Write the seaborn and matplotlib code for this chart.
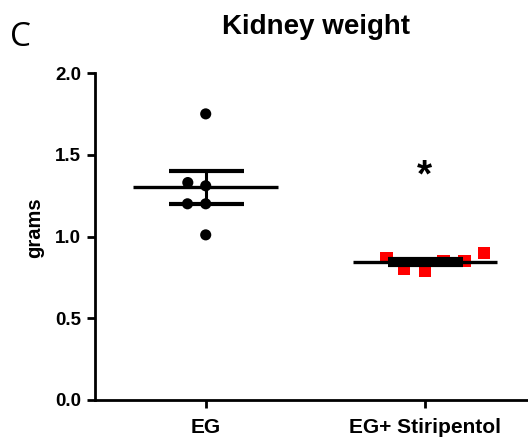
import numpy as np
import pandas as pd
import matplotlib
matplotlib.use("Agg")
import matplotlib.pyplot as plt
import seaborn as sns

# ---- data ----
categories = ["EG", "EG+ Stiripentol"]
eg_values = [1.75, 1.33, 1.31, 1.20, 1.20, 1.01]
stiri_values = [0.87, 0.85, 0.79, 0.80, 0.85, 0.90]
y_ticks = [0.0, 0.5, 1.0, 1.5, 2.0]
title = "Kidney weight"
y_label = "grams"
panel_letter = "C"
signif_mark = "*"
signif_y = 1.37

sns.set_style("ticks")
plt.rcParams["font.family"] = ["Liberation Sans", "DejaVu Sans"]
plt.rcParams.update({"text.color": "black", "axes.labelcolor": "black",
                     "xtick.color": "black", "ytick.color": "black"})

df = pd.DataFrame({
    "group": [categories[0]] * len(eg_values) + [categories[1]] * len(stiri_values),
    "grams": eg_values + stiri_values,
})

fig = plt.figure(figsize=(5.28, 4.38), dpi=100)
ax = fig.add_axes([95 / 528, 38 / 438, 1 - 95 / 528, (400 - 73) / 438])

sns.swarmplot(data=df[df.group == categories[0]], x="group", y="grams", order=categories,
              color="black", marker="o", size=8, linewidth=4.5, edgecolor="none", ax=ax, zorder=2)
sns.swarmplot(data=df[df.group == categories[1]], x="group", y="grams", order=categories,
              color="#ff0000", marker="s", size=9, linewidth=5.5, edgecolor="none", ax=ax, zorder=2)

for i, vals in enumerate([eg_values, stiri_values]):
    v = np.array(vals)
    m = v.mean()
    sem = v.std(ddof=1) / np.sqrt(len(v))
    ax.hlines(m, i - 0.33, i + 0.33, color="black", lw=2.4, zorder=3)
    ax.errorbar(i, m, yerr=sem, fmt="none", ecolor="black", elinewidth=2.2,
                capsize=27, capthick=3, zorder=3)

ax.text(1, signif_y, signif_mark, ha="center", va="center", fontsize=28,
        fontweight="bold", color="black")

ax.set_xlim(-0.505, 1.47)
ax.set_ylim(0, 2.0)
ax.set_yticks(y_ticks)
ax.set_yticklabels([f"{t:.1f}" for t in y_ticks], fontsize=13.5, fontweight="bold")
ax.set_xticks([0, 1])
ax.set_xticklabels(categories, fontsize=15, fontweight="bold")
ax.set_xlabel("")
ax.set_ylabel(y_label, fontsize=14.5, fontweight="bold")
ax.yaxis.set_label_coords(-0.118, 0.526)
ax.tick_params(axis="both", direction="out", length=6, width=2, color="black")
ax.tick_params(axis="y", pad=4)
ax.tick_params(axis="x", pad=7)
for s in ["top", "right"]:
    ax.spines[s].set_visible(False)
for s in ["left", "bottom"]:
    ax.spines[s].set_linewidth(2)
    ax.spines[s].set_color("black")
ax.set_facecolor("white")

fig.text(316 / 528, 1 - 27 / 438, title, ha="center", va="center", fontsize=20,
         fontweight="bold", color="black")
fig.text(20 / 528, 1 - 38 / 438, panel_letter, ha="center", va="center", fontsize=24,
         color="black", family=["Open Sans", "DejaVu Sans"])

fig.savefig("out.png", dpi=100, facecolor="white")
